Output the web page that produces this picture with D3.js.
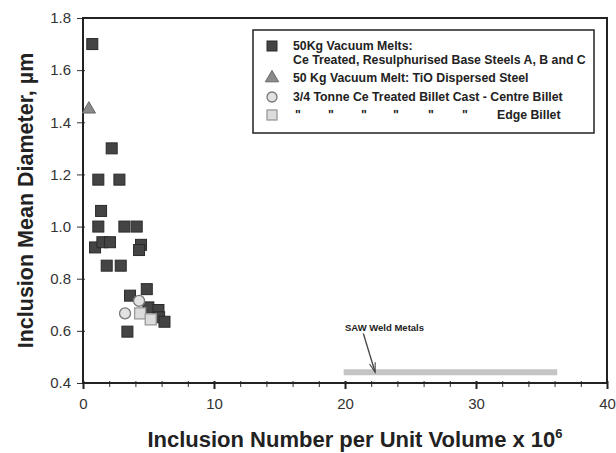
<!DOCTYPE html>
<html>
<head>
<meta charset="utf-8">
<title>Inclusion Mean Diameter vs Inclusion Number</title>
<script src="https://d3js.org/d3.v7.min.js"></script>
<style>
  body { margin: 0; background: #fff; }
  text { font-family: Arial, "Liberation Sans", sans-serif; fill: #222; }
</style>
</head>
<body>
<div id="chart"></div>
<script>
// Data
var vacuumMelts = [
  [0.71, 1.70], [2.19, 1.30], [1.17, 1.18], [2.78, 1.18], [1.38, 1.06],
  [1.17, 1.00], [3.16, 1.00], [4.10, 1.00], [0.92, 0.92], [1.48, 0.94],
  [2.06, 0.94], [4.43, 0.93], [4.28, 0.91], [1.81, 0.85], [2.88, 0.85],
  [4.87, 0.76], [3.59, 0.735], [4.99, 0.69], [5.76, 0.68], [5.81, 0.652],
  [6.22, 0.635], [3.39, 0.597]
];
var tioSteel = [[0.45, 1.45]];
var centreBillet = [[4.28, 0.715], [3.21, 0.667]];
var edgeBillet = [[4.36, 0.667], [5.17, 0.644]];
var sawRange = [19.9, 36.2];
var sawY = 0.441;
var xTicks = [0, 10, 20, 30, 40];
var yTicks = [0.4, 0.6, 0.8, 1.0, 1.2, 1.4, 1.6, 1.8];
var legendLabels = [
  ["50Kg Vacuum Melts:", "Ce Treated, Resulphurised Base Steels A, B and C"],
  ["50 Kg Vacuum Melt: TiO Dispersed Steel"],
  ["3/4 Tonne Ce Treated Billet Cast - Centre Billet"],
  ["Edge Billet"]
];

var width = 616, height = 453;
var margin = { top: 18, right: 9, bottom: 70, left: 83 };

var svg = d3.select("#chart").append("svg")
  .attr("width", width).attr("height", height);

var x = d3.scaleLinear().domain([0, 40]).range([margin.left, width - margin.right]);
var y = d3.scaleLinear().domain([0.4, 1.8]).range([height - margin.bottom, margin.top]);

// x axis with minor ticks
var xMinor = d3.range(0, 41, 2);
svg.append("g")
  .attr("transform", "translate(0," + y(0.4) + ")")
  .call(d3.axisBottom(x).tickValues(xMinor).tickSize(4).tickFormat(""))
  .call(g => g.select(".domain").remove())
  .selectAll("line").attr("stroke", "#333").attr("y1", -2);

var xAxis = svg.append("g")
  .attr("transform", "translate(0," + y(0.4) + ")")
  .call(d3.axisBottom(x).tickValues(xTicks).tickSize(6).tickPadding(9).tickFormat(d3.format("d")));
xAxis.select(".domain").remove();
xAxis.selectAll("line").attr("stroke", "#222").attr("stroke-width", 2).attr("y1", -2);
xAxis.selectAll("text").style("font-size", "15px").style("fill", "#333");

var yAxis = svg.append("g")
  .attr("transform", "translate(" + x(0) + ",0)")
  .call(d3.axisLeft(y).tickValues(yTicks).tickSize(6).tickPadding(6).tickFormat(d3.format(".1f")));
yAxis.select(".domain").remove();
yAxis.selectAll("line").attr("stroke", "#333").attr("x1", 2);
yAxis.selectAll("text").style("font-size", "15px").style("fill", "#333");

// frame
svg.append("rect")
  .attr("x", x(0)).attr("y", y(1.8))
  .attr("width", x(40) - x(0)).attr("height", y(0.4) - y(1.8))
  .attr("fill", "none").attr("stroke", "#222").attr("stroke-width", 2);

// SAW weld metals bar
svg.append("line")
  .attr("x1", x(sawRange[0])).attr("x2", x(sawRange[1]))
  .attr("y1", y(sawY)).attr("y2", y(sawY))
  .attr("stroke", "#c4c4c4").attr("stroke-width", 6);

// arrow from label to bar
var ax0 = x(21.4), ay0 = y(0.59), ax1 = x(22.3), ay1 = y(sawY);
var ang = Math.atan2(ay1 - ay0, ax1 - ax0);
var head = 10, spread = 0.3;
svg.append("line")
  .attr("x1", ax0).attr("y1", ay0).attr("x2", ax1).attr("y2", ay1)
  .attr("stroke", "#444").attr("stroke-width", 1.3);
svg.append("path")
  .attr("d", "M" + (ax1 - head * Math.cos(ang - spread)) + "," + (ay1 - head * Math.sin(ang - spread)) +
    "L" + ax1 + "," + ay1 +
    "L" + (ax1 - head * Math.cos(ang + spread)) + "," + (ay1 - head * Math.sin(ang + spread)))
  .attr("fill", "none").attr("stroke", "#444").attr("stroke-width", 1.1);

svg.append("text")
  .attr("x", x(20.0)).attr("y", y(0.6))
  .style("font-size", "9.5px").style("font-weight", "bold")
  .text("SAW Weld Metals");

// points
var plot = svg.append("g");
plot.selectAll(".melt").data(vacuumMelts).enter().append("rect")
  .attr("class", "melt")
  .attr("x", d => x(d[0]) - 5.5).attr("y", d => y(d[1]) - 5.5)
  .attr("width", 11).attr("height", 11)
  .attr("fill", "#444").attr("stroke", "#2a2a2a");

var tri = d3.symbol().type(d3.symbolTriangle).size(75);
plot.selectAll(".tio").data(tioSteel).enter().append("path")
  .attr("d", tri)
  .attr("transform", d => "translate(" + x(d[0]) + "," + y(d[1]) + ")")
  .attr("fill", "#8a8a8a").attr("stroke", "#666");

plot.selectAll(".centre").data(centreBillet).enter().append("circle")
  .attr("cx", d => x(d[0])).attr("cy", d => y(d[1])).attr("r", 5.5)
  .attr("fill", "#e2e2e2").attr("stroke", "#777").attr("stroke-width", 1.3);

plot.selectAll(".edge").data(edgeBillet).enter().append("rect")
  .attr("x", d => x(d[0]) - 5.5).attr("y", d => y(d[1]) - 5.5)
  .attr("width", 11).attr("height", 11)
  .attr("fill", "#dcdcdc").attr("stroke", "#999").attr("stroke-width", 1.3);

// legend
var lg = svg.append("g");
lg.append("rect")
  .attr("x", 253).attr("y", 30).attr("width", 341).attr("height", 103)
  .attr("fill", "#fff").attr("stroke", "#222").attr("stroke-width", 1.5);

var lx = 272, tx = 293;
var rowsY = [46, 78, 97, 115];
lg.append("rect").attr("x", lx - 5).attr("y", rowsY[0] - 5).attr("width", 10).attr("height", 10)
  .attr("fill", "#444").attr("stroke", "#2a2a2a");
lg.append("path").attr("d", tri).attr("transform", "translate(" + lx + "," + rowsY[1] + ")")
  .attr("fill", "#8a8a8a").attr("stroke", "#666");
lg.append("circle").attr("cx", lx).attr("cy", rowsY[2]).attr("r", 5)
  .attr("fill", "#e2e2e2").attr("stroke", "#777").attr("stroke-width", 1.3);
lg.append("rect").attr("x", lx - 5).attr("y", rowsY[3] - 5).attr("width", 10).attr("height", 10)
  .attr("fill", "#dcdcdc").attr("stroke", "#999").attr("stroke-width", 1.3);

var legendText = function (str, xx, yy) {
  lg.append("text").attr("x", xx).attr("y", yy).attr("dy", "0.35em")
    .style("font-size", "12.3px").style("font-weight", "bold").text(str);
};
legendText(legendLabels[0][0], tx, rowsY[0]);
legendText(legendLabels[0][1], tx, rowsY[0] + 14);
legendText(legendLabels[1][0], tx, rowsY[1]);
legendText(legendLabels[2][0], tx, rowsY[2]);
[295, 328, 361, 393, 428, 462].forEach(function (qx) { legendText("\"", qx, rowsY[3]); });
legendText(legendLabels[3][0], 497, rowsY[3]);

// axis titles
svg.append("text")
  .attr("transform", "translate(33," + ((y(0.4) + y(1.8)) / 2) + ") rotate(-90)")
  .attr("text-anchor", "middle")
  .style("font-size", "21.5px").style("font-weight", "bold")
  .text("Inclusion Mean Diameter, \u00b5m");

var xt = svg.append("text")
  .attr("x", 355).attr("y", 447)
  .attr("text-anchor", "middle")
  .style("font-size", "22px").style("font-weight", "bold");
xt.append("tspan").text("Inclusion Number per Unit Volume x 10");
xt.append("tspan").attr("dy", "-9").style("font-size", "13px").text("6");
</script>
</body>
</html>
